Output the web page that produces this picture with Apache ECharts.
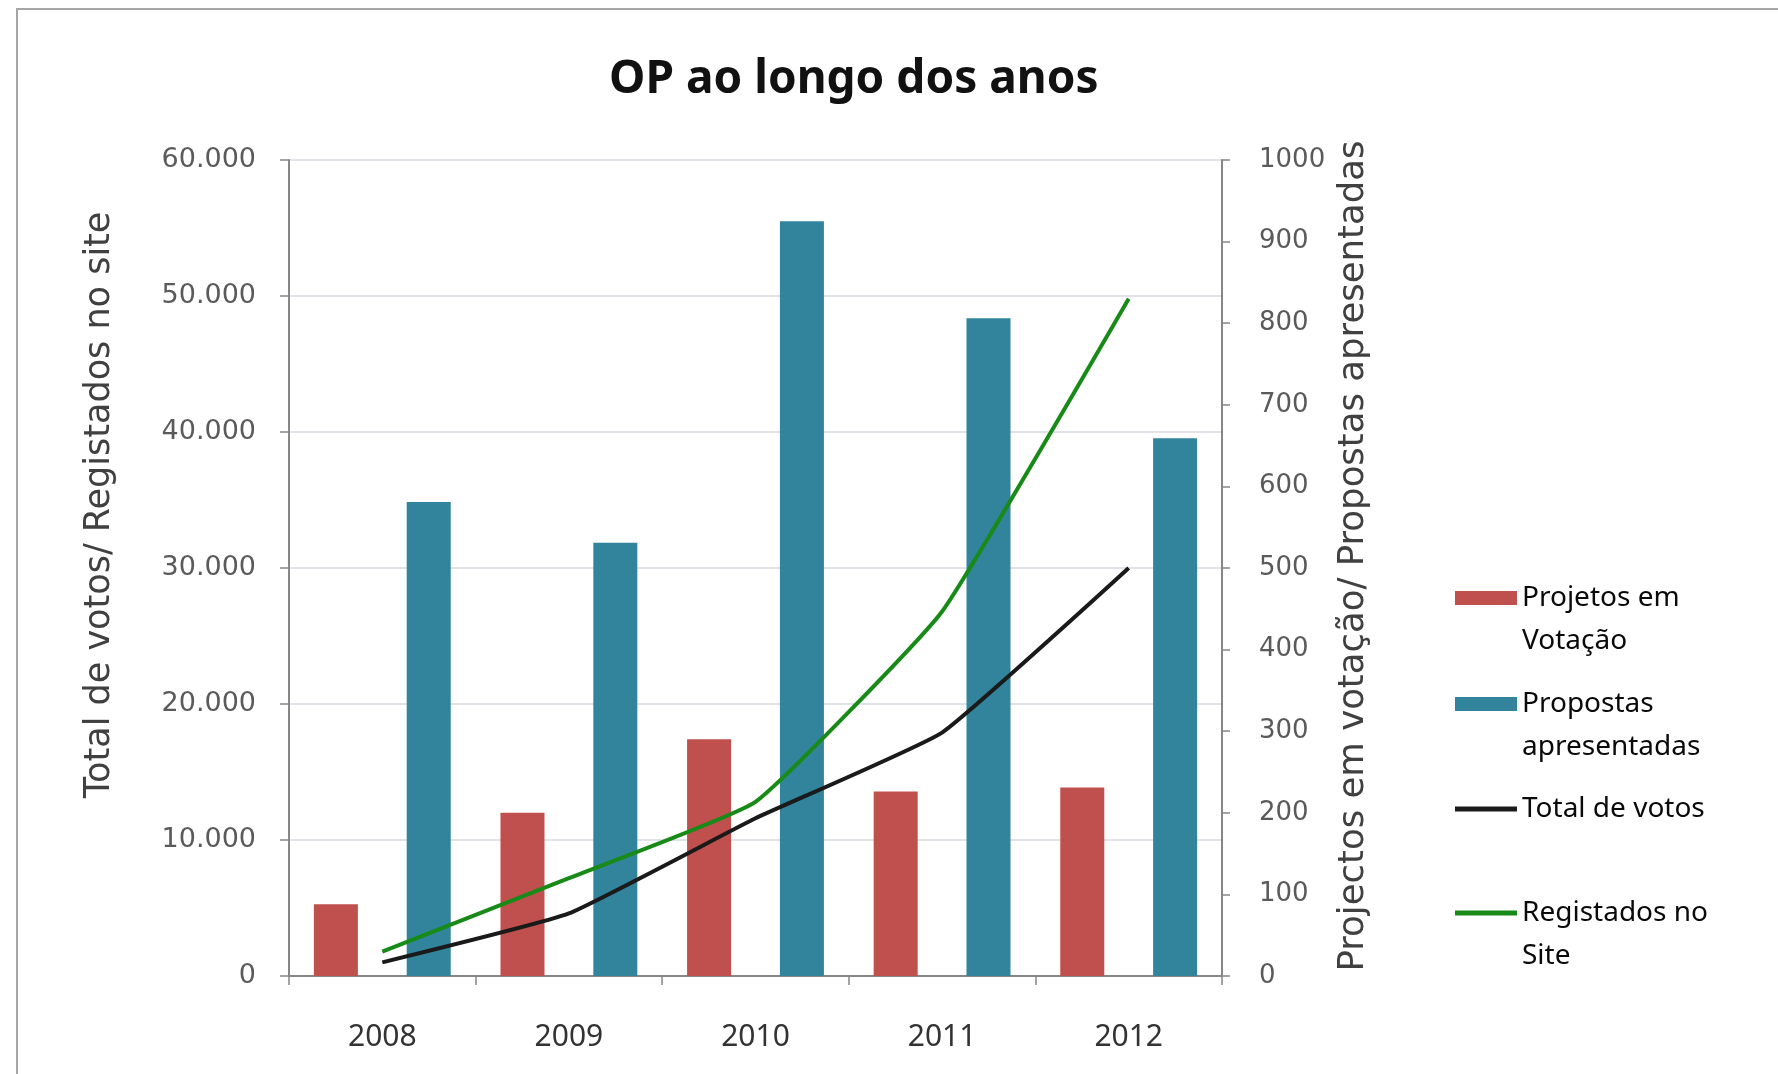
<!DOCTYPE html>
<html>
<head>
<meta charset="utf-8">
<script src="https://cdn.jsdelivr.net/npm/echarts@6/dist/echarts.min.js"></script>
<style>
html,body{margin:0;padding:0;background:#fff;}
#chart{width:1778px;height:1074px;}
</style>
</head>
<body>
<div id="chart"></div>
<script>
const categories = ['2008', '2009', '2010', '2011', '2012'];
const projetosVotacao = [88, 200, 290, 226, 231];
const propostasApresentadas = [581, 531, 925, 806, 659];
const totalVotos = [1000, 4600, 11600, 17900, 30000];
const registadosSite = [1800, 7200, 12800, 26800, 49800];
const leftTicks = { min: 0, max: 60000, interval: 10000 };
const rightTicks = { min: 0, max: 1000, interval: 100 };

const names = {
  p: 'Projetos em\nVotação',
  a: 'Propostas\napresentadas',
  t: 'Total de votos',
  r: 'Registados no\nSite'
};

function thousands(v) {
  return String(v).replace(/\B(?=(\d{3})+(?!\d))/g, '.');
}

const chart = echarts.init(document.getElementById('chart'), null, { renderer: 'canvas' });

const legendText = { fontFamily: 'Noto Sans', fontSize: 28, color: '#0a0a0a', lineHeight: 43 };
function legendFor(name, top, opts) {
  return Object.assign({
    data: [{ name: name }],
    left: 1455,
    top: top,
    padding: 0,
    itemWidth: 62,
    itemHeight: 14,
    icon: 'rect',
    selectedMode: false,
    formatter: function (n) { return n.indexOf('\n') >= 0 ? '\n' + n : n; },
    textStyle: legendText
  }, opts || {});
}

chart.setOption({
  animation: false,
  backgroundColor: '#ffffff',
  title: {
    text: 'OP ao longo dos anos',
    left: 604,
    top: 52,
    textStyle: { fontFamily: 'Noto Sans', fontWeight: 'bold', fontSize: 46, color: '#111' }
  },
  graphic: [{
    type: 'rect',
    shape: { x: 17, y: 9, width: 1800, height: 1100 },
    style: { fill: 'none', stroke: '#a6a6a6', lineWidth: 2 },
    silent: true
  }],
  legend: [
    legendFor(names.p, 598 - 64.5),
    legendFor(names.a, 704 - 64.5),
    legendFor(names.t, 809 - 21.5, { itemHeight: 5 }),
    legendFor(names.r, 913 - 64.5, { itemHeight: 5 })
  ],
  grid: { left: 289, right: 556, top: 160, bottom: 98, containLabel: false },
  xAxis: {
    type: 'category',
    data: categories,
    boundaryGap: true,
    axisLine: { lineStyle: { color: '#868686', width: 2 } },
    axisTick: { show: true, length: 9, inside: false, lineStyle: { color: '#868686', width: 1.5 } },
    axisLabel: { margin: 46, fontFamily: 'Noto Sans', fontSize: 30, color: '#333' }
  },
  yAxis: [{
    type: 'value',
    min: leftTicks.min, max: leftTicks.max, interval: leftTicks.interval,
    position: 'left',
    name: 'Total de votos/ Registados no site',
    nameLocation: 'middle',
    nameRotate: 90,
    nameGap: 172,
    nameTextStyle: { fontFamily: 'DejaVu Sans', fontSize: 35, color: '#404040', padding: [0, 0, 0, 126] },
    axisLine: { show: true, lineStyle: { color: '#868686', width: 2 } },
    axisTick: { show: true, length: 9, lineStyle: { color: '#868686', width: 1.5 } },
    axisLabel: { margin: 33, fontFamily: 'DejaVu Sans', fontSize: 27, color: '#5a5a5a', formatter: thousands },
    splitLine: { show: true, lineStyle: { color: '#d6dbe0', width: 1.5 } }
  }, {
    type: 'value',
    min: rightTicks.min, max: rightTicks.max, interval: rightTicks.interval,
    position: 'right',
    name: 'Projectos em votação/ Propostas apresentadas',
    nameLocation: 'middle',
    nameRotate: 90,
    nameGap: 92,
    nameTextStyle: { fontFamily: 'DejaVu Sans', fontSize: 35.5, color: '#404040', padding: [0, 0, 0, 24] },
    axisLine: { show: true, lineStyle: { color: '#868686', width: 2 } },
    axisTick: { show: true, length: 8, lineStyle: { color: '#868686', width: 1.5 } },
    axisLabel: { margin: 37, fontFamily: 'DejaVu Sans', fontSize: 26, color: '#5a5a5a', formatter: function (v) { return String(v); } },
    splitLine: { show: false }
  }],
  series: [{
    name: names.p,
    type: 'bar',
    yAxisIndex: 1,
    data: projetosVotacao,
    barWidth: 44,
    barGap: '111%',
    itemStyle: { color: '#c0504d' }
  }, {
    name: names.a,
    type: 'bar',
    yAxisIndex: 1,
    data: propostasApresentadas,
    barWidth: 44,
    barGap: '111%',
    itemStyle: { color: '#31849b' }
  }, {
    name: names.t,
    type: 'line',
    yAxisIndex: 0,
    data: totalVotos,
    smooth: 0.12,
    showSymbol: false,
    symbol: 'none',
    lineStyle: { color: '#1a1a1a', width: 4 },
    itemStyle: { color: '#1a1a1a' }
  }, {
    name: names.r,
    type: 'line',
    yAxisIndex: 0,
    data: registadosSite,
    smooth: 0.12,
    showSymbol: false,
    symbol: 'none',
    lineStyle: { color: '#178a17', width: 4 },
    itemStyle: { color: '#178a17' }
  }]
});
</script>
</body>
</html>
